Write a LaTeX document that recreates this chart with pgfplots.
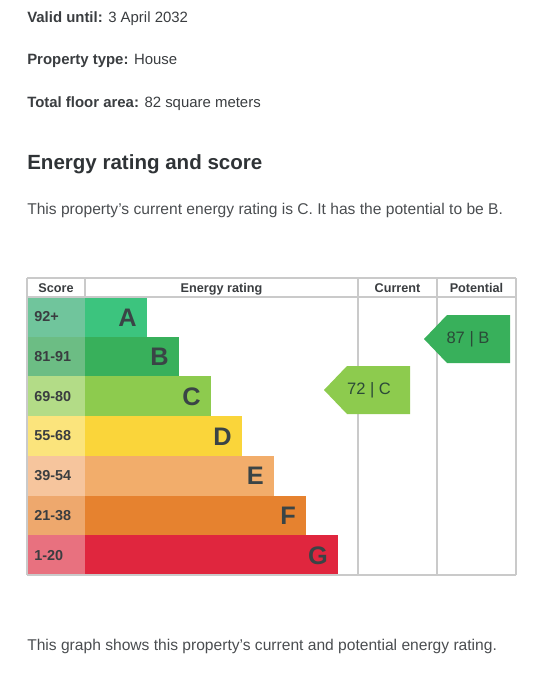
\documentclass[border=0pt]{standalone}
\usepackage{pgfplots}
\pgfplotsset{compat=1.18}
\usepackage{fontspec}
\setmainfont{Liberation Sans}
\definecolor{txt}{HTML}{3A3D40}
\definecolor{txtl}{HTML}{4A4D50}
\definecolor{hd}{HTML}{2F3336}
\definecolor{lett}{HTML}{3A4446}
\definecolor{arrtxt}{HTML}{2B4A38}
\definecolor{grid}{HTML}{CACACA}
\definecolor{bA}{HTML}{3CC47E}
\definecolor{bB}{HTML}{38B05B}
\definecolor{bC}{HTML}{8DCB4E}
\definecolor{bD}{HTML}{FAD53A}
\definecolor{bE}{HTML}{F2AD6B}
\definecolor{bF}{HTML}{E6822F}
\definecolor{bG}{HTML}{E0263E}
\definecolor{sA}{HTML}{70C59C}
\definecolor{sB}{HTML}{6CBD84}
\definecolor{sC}{HTML}{B3DC87}
\definecolor{sD}{HTML}{FBE47C}
\definecolor{sE}{HTML}{F6C59D}
\definecolor{sF}{HTML}{EEA86D}
\definecolor{sG}{HTML}{E8717F}
\begin{document}
\begin{tikzpicture}[x=1pt,y=1pt,
  sc/.style={txt, anchor=west, inner sep=0pt, font=\fontsize{10.8}{12}\selectfont\bfseries},
  lt/.style={lett, anchor=east, inner sep=0pt, font=\fontsize{19}{22}\selectfont\bfseries},
  hdr/.style={txt, anchor=base, inner sep=0pt, font=\fontsize{9.5}{11}\selectfont\bfseries},
  tl/.style={anchor=west, inner sep=0pt}]
\begin{axis}[
  at={(0,0)}, anchor=south west,
  width=407.25pt, height=517.5pt, scale only axis,
  xmin=-27, xmax=516, ymin=0, ymax=690, y dir=reverse,
  hide axis, clip=false,
  barstyle/.style={xbar, bar width=39.714, bar shift=0pt, draw=none},
]
% rating bars (length measured from chart left edge)
\addplot[barstyle, fill=bA] coordinates {(120,316.86)};
\addplot[barstyle, fill=bB] coordinates {(152,356.57)};
\addplot[barstyle, fill=bC] coordinates {(184,396.29)};
\addplot[barstyle, fill=bD] coordinates {(215,436.00)};
\addplot[barstyle, fill=bE] coordinates {(247,475.71)};
\addplot[barstyle, fill=bF] coordinates {(279,515.43)};
\addplot[barstyle, fill=bG] coordinates {(311,555.14)};
% score cells
\addplot[barstyle, fill=sA] coordinates {(58,316.86)};
\addplot[barstyle, fill=sB] coordinates {(58,356.57)};
\addplot[barstyle, fill=sC] coordinates {(58,396.29)};
\addplot[barstyle, fill=sD] coordinates {(58,436.00)};
\addplot[barstyle, fill=sE] coordinates {(58,475.71)};
\addplot[barstyle, fill=sF] coordinates {(58,515.43)};
\addplot[barstyle, fill=sG] coordinates {(58,555.14)};
% grid lines
\draw[grid, line width=0.8pt] (axis cs:0,278) -- (axis cs:489,278);
\draw[grid, line width=0.8pt] (axis cs:0,297) -- (axis cs:489,297);
\draw[grid, line width=0.8pt] (axis cs:0,575) -- (axis cs:489,575);
\draw[grid, line width=0.8pt] (axis cs:0,278) -- (axis cs:0,575);
\draw[grid, line width=0.8pt] (axis cs:58,278) -- (axis cs:58,297);
\draw[grid, line width=0.8pt] (axis cs:331,278) -- (axis cs:331,575);
\draw[grid, line width=0.8pt] (axis cs:410,278) -- (axis cs:410,575);
\draw[grid, line width=0.8pt] (axis cs:489,278) -- (axis cs:489,575);
% arrows
\addplot[fill=bB, draw=none] coordinates {(397,339) (420,315) (483,315) (483,363) (420,363)} -- cycle;
\addplot[fill=bC, draw=none] coordinates {(297,390) (320,366) (383,366) (383,414) (320,414)} -- cycle;
\node[arrtxt, font=\fontsize{12.4}{14}\selectfont] at (axis cs:441,339) {87 | B};
\node[arrtxt, font=\fontsize{12.4}{14}\selectfont] at (axis cs:342,390) {72 | C};
% header
\node[hdr] at (axis cs:29,292) {Score};
\node[hdr] at (axis cs:194.5,292) {Energy rating};
\node[hdr] at (axis cs:370.5,292) {Current};
\node[hdr] at (axis cs:449.5,292) {Potential};
% scores
\node[sc] at (axis cs:7,316.86) {92+};
\node[sc] at (axis cs:7,356.57) {81-91};
\node[sc] at (axis cs:7,396.29) {69-80};
\node[sc] at (axis cs:7,436.00) {55-68};
\node[sc] at (axis cs:7,475.71) {39-54};
\node[sc] at (axis cs:7,515.43) {21-38};
\node[sc] at (axis cs:7,555.14) {1-20};
% letters
\node[lt] at (axis cs:110,317.36) {A};
\node[lt] at (axis cs:142,357.07) {B};
\node[lt] at (axis cs:174,396.79) {C};
\node[lt] at (axis cs:205,436.50) {D};
\node[lt] at (axis cs:237,476.21) {E};
\node[lt] at (axis cs:269,515.93) {F};
\node[lt] at (axis cs:301,555.64) {G};
% text
\node[txt, tl, font=\fontsize{11.2}{14}\selectfont] at (axis cs:0,18.5) {\textbf{Valid until:} 3 April 2032};
\node[txt, tl, font=\fontsize{11.2}{14}\selectfont] at (axis cs:0,60.5) {\textbf{Property type:} House};
\node[txt, tl, font=\fontsize{11.2}{14}\selectfont] at (axis cs:0,103.5) {\textbf{Total floor area:} 82 square meters};
\node[hd, tl, font=\fontsize{15.4}{18}\selectfont\bfseries] at (axis cs:0,164) {Energy rating and score};
\node[txtl, tl, font=\fontsize{11.7}{14}\selectfont] at (axis cs:0,210) {This property’s current energy rating is C. It has the potential to be B.};
\node[txtl, tl, font=\fontsize{11.7}{14}\selectfont] at (axis cs:0,646) {This graph shows this property’s current and potential energy rating.};
\end{axis}
\pgfresetboundingbox
\path (0,0) rectangle (407.25pt,517.5pt);
\end{tikzpicture}
\end{document}
